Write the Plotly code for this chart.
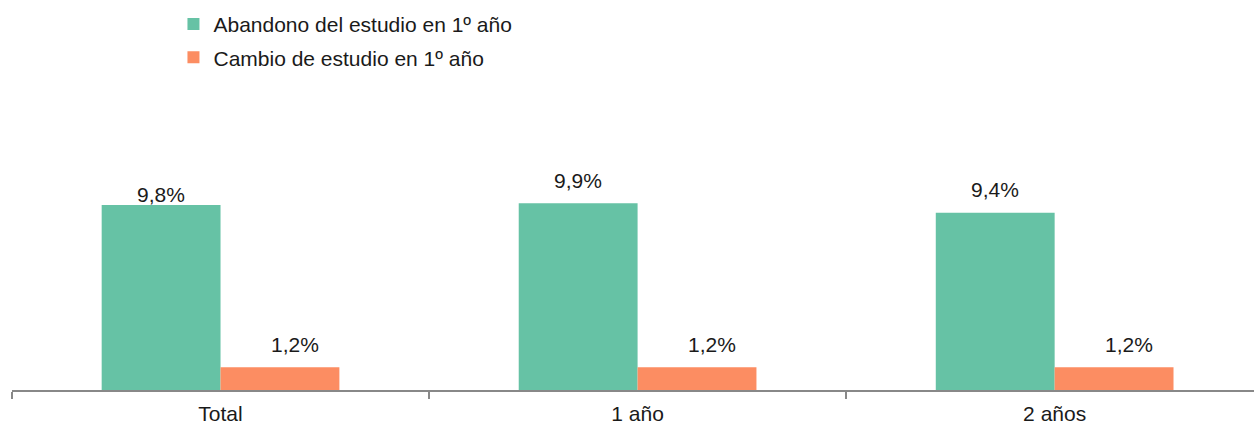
import plotly.graph_objects as go

categories = ["Total", "1 año", "2 años"]
abandono = [9.8, 9.9, 9.4]
cambio = [1.2, 1.2, 1.2]
series_names = ["Abandono del estudio en 1º año", "Cambio de estudio en 1º año"]
colors = ["#66C2A5", "#FC8D62"]

# label placement (pixel offsets, style only)
abandono_label_dy = [11, 23, 23]
cambio_label_dy = [23, 23, 23]
cambio_label_dx = 15

BARGAP = 0.43

fig = go.Figure()
for name, vals, col, grp in [(series_names[0], abandono, colors[0], "a"),
                             (series_names[1], cambio, colors[1], "b")]:
    fig.add_trace(go.Bar(
        x=categories, y=vals, name=name, marker_color=col,
        marker_line_width=0, legendgroup=grp, hoverinfo="skip",
    ))

half = (1 - BARGAP) / 4
annotations = []
for i, (a, c) in enumerate(zip(abandono, cambio)):
    annotations.append(dict(
        x=i - half, y=a, xref="x", yref="y", showarrow=False,
        text=f"{a:.1f}".replace(".", ",") + "%",
        yanchor="middle", xanchor="center", yshift=abandono_label_dy[i],
        font=dict(size=21, color="#1a1a1a")))
    annotations.append(dict(
        x=i + half, y=c, xref="x", yref="y", showarrow=False,
        text=f"{c:.1f}".replace(".", ",") + "%",
        yanchor="middle", xanchor="center", yshift=cambio_label_dy[i],
        xshift=cambio_label_dx,
        font=dict(size=21, color="#1a1a1a")))

fig.update_layout(
    width=1254, height=424,
    margin=dict(l=12, r=0, t=90, b=34),
    paper_bgcolor="white", plot_bgcolor="white",
    font=dict(family="Liberation Sans, Arial, sans-serif", size=21, color="#1a1a1a"),
    barmode="group", bargap=BARGAP, bargroupgap=0,
    showlegend=True,
    annotations=annotations,
    legend=dict(x=0.130, y=1.287, xanchor="left", yanchor="top",
                orientation="v", tracegroupgap=3,
                font=dict(size=21, color="#1a1a1a"), bgcolor="rgba(0,0,0,0)"),
    xaxis=dict(type="category", range=[-0.5, 2.478], tickson="boundaries",
               ticks="outside", ticklen=7, tickcolor="#888888", tickwidth=1.5,
               showline=True, linecolor="#888888", linewidth=1.5,
               ticklabelstandoff=4,
               showgrid=False, zeroline=False, tickfont=dict(size=21)),
    yaxis=dict(visible=False, range=[0, 15.9], showgrid=False, zeroline=False),
)

fig.write_html("out.html", config={"displayModeBar": False},
               post_script="document.body.style.margin='0';document.body.style.overflow='hidden';")
